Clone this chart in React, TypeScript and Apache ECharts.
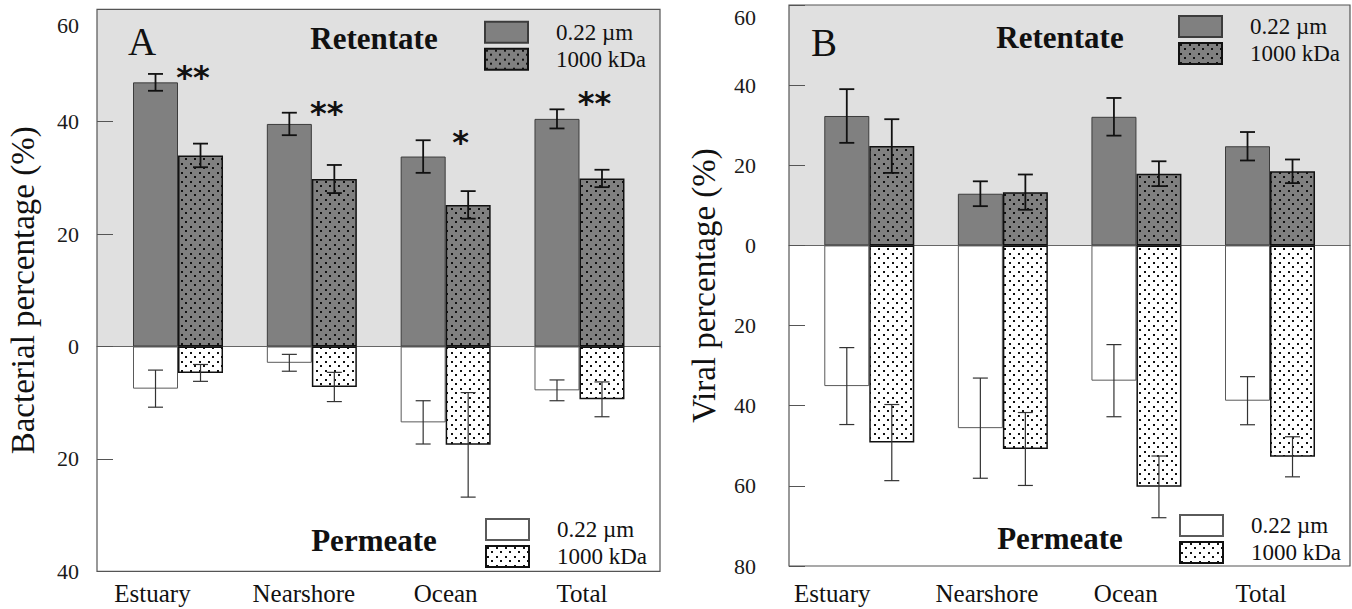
import React, { useEffect, useRef } from 'react';
import * as echarts from 'echarts';

// ---------- data ----------
const categories = ['Estuary', 'Nearshore', 'Ocean', 'Total'];
const filterLabels = ['0.22 µm', '1000 kDa'];

// Panel A – bacterial percentage (%)
const bacRet022 = [47.0, 39.6, 33.8, 40.5];
const bacRet022Err = [1.5, 2.0, 2.9, 1.7];
const bacRet1000 = [34.0, 29.8, 25.2, 29.9];
const bacRet1000Err = [2.1, 2.5, 2.45, 1.55];
const bacPerm022 = [7.5, 2.9, 13.5, 7.8];
const bacPerm022Err = [3.3, 1.5, 3.85, 1.85];
const bacPerm1000 = [4.7, 7.2, 17.5, 9.4];
const bacPerm1000Err = [1.5, 2.6, 9.3, 3.1];
const bacStars = ['**', '**', '*', '**'];
const bacStarLevel = [48.9, 42.5, 37.2, 44.3];

// Panel B – viral percentage (%)
const virRet022 = [32.3, 12.9, 32.1, 24.75];
const virRet022Err = [6.7, 3.1, 4.7, 3.55];
const virRet1000 = [24.8, 13.3, 17.9, 18.5];
const virRet1000Err = [6.7, 4.4, 3.1, 2.95];
const virPerm022 = [35.1, 45.6, 33.75, 38.75];
const virPerm022Err = [9.6, 12.5, 9.0, 6.0];
const virPerm1000 = [49.2, 50.8, 60.25, 52.75];
const virPerm1000Err = [9.5, 9.1, 7.7, 5.0];

const bacAxis = { min: -40, max: 60, interval: 20, name: 'Bacterial percentage (%)' };
const virAxis = { min: -80, max: 60, interval: 20, name: 'Viral percentage (%)' };

// ---------- layout / style ----------
const SERIF = '"Liberation Serif", "Times New Roman", serif';
const BAR_W = 45;
const HALF = BAR_W / 2;
const CAP = 7.5;

const PANELS = [
  {
    key: 'A',
    letter: 'A',
    axis: bacAxis,
    ret022: bacRet022, ret022Err: bacRet022Err, ret1000: bacRet1000, ret1000Err: bacRet1000Err,
    perm022: bacPerm022, perm022Err: bacPerm022Err, perm1000: bacPerm1000, perm1000Err: bacPerm1000Err,
    stars: bacStars, starLevel: bacStarLevel,
    outer: { left: 97, top: 9.3, width: 563, height: 562 },
    inner: { left: 111.1, width: 535.3 },
    labelMargin: 18, nameGap: 58, topLabelPad: 32, xLabelMargin: 10,
    xShift: [-25.5, -8, 0, 2.5],
    letterPos: [142, 41], retPos: [374, 38], permPos: [374, 540],
    legTop: [484, 20.7], legBot: [485, 518],
  },
  {
    key: 'B',
    letter: 'B',
    axis: virAxis,
    ret022: virRet022, ret022Err: virRet022Err, ret1000: virRet1000, ret1000Err: virRet1000Err,
    perm022: virPerm022, perm022Err: virPerm022Err, perm1000: virPerm1000, perm1000Err: virPerm1000Err,
    stars: null, starLevel: null,
    outer: { left: 789, top: 5, width: 561, height: 561 },
    inner: { left: 802.5, width: 534.3 },
    labelMargin: 33, nameGap: 69, topLabelPad: 24, xLabelMargin: 15,
    xShift: [-37, -16, -10.7, -9],
    letterPos: [824, 42], retPos: [1060, 37], permPos: [1060, 538],
    legTop: [1178, 15], legBot: [1179, 514],
  },
];

function makeDots(bg: string) {
  const c = document.createElement('canvas');
  c.width = 9;
  c.height = 9;
  const g = c.getContext('2d')!;
  g.fillStyle = bg;
  g.fillRect(0, 0, 9, 9);
  g.fillStyle = '#111';
  g.fillRect(1, 1, 2, 2);
  g.fillRect(5, 5, 2, 2);
  return { image: c, repeat: 'repeat', imageWidth: 9, imageHeight: 9 } as any;
}

function buildOption() {
  const dotsGray = makeDots('#808080');
  const dotsWhite = makeDots('#ffffff');

  const grid: any[] = [];
  const xAxis: any[] = [];
  const yAxis: any[] = [];
  const series: any[] = [];
  const legend: any[] = [];
  const graphic: any[] = [];

  PANELS.forEach((p, pi) => {
    const gOuter = pi * 2;
    const gInner = pi * 2 + 1;
    grid.push({ left: p.outer.left, top: p.outer.top, width: p.outer.width, height: p.outer.height });
    grid.push({ left: p.inner.left, top: p.outer.top, width: p.inner.width, height: p.outer.height });

    // outer axes: frame, ticks, labels, zero line
    xAxis.push({
      type: 'value', gridIndex: gOuter, min: 0, max: 1, z: 1,
      axisLine: { show: true, onZero: true, lineStyle: { color: '#666', width: 1 } },
      axisTick: { show: false }, axisLabel: { show: false }, splitLine: { show: false },
    });
    yAxis.push({
      type: 'value', gridIndex: gOuter, min: p.axis.min, max: p.axis.max, interval: p.axis.interval, z: 1,
      name: p.axis.name, nameLocation: 'middle', nameRotate: 90, nameGap: p.nameGap,
      nameTextStyle: { fontFamily: SERIF, fontSize: 33, color: '#111' },
      axisLine: { show: false },
      axisTick: { show: true, inside: true, length: 16, lineStyle: { color: '#555', width: 1 } },
      splitLine: { show: false },
      axisLabel: {
        margin: p.labelMargin, fontFamily: SERIF, fontSize: 22, color: '#1a1a1a',
        formatter: (v: number) => (v === p.axis.max ? `{t|${Math.abs(v)}}` : `{n|${Math.abs(v)}}`),
        rich: {
          t: { padding: [p.topLabelPad, 0, 0, 0], fontFamily: SERIF, fontSize: 22, color: '#1a1a1a' },
          n: { fontFamily: SERIF, fontSize: 22, color: '#1a1a1a' },
        },
      },
    });

    // inner axes: bars
    const rich: any = {};
    p.xShift.forEach((s, i) => {
      rich['c' + i] = {
        fontFamily: SERIF, fontSize: 25, color: '#111',
        padding: s < 0 ? [0, -2 * s, 0, 0] : [0, 0, 0, 2 * s],
      };
    });
    xAxis.push({
      type: 'category', gridIndex: gInner, data: categories, position: 'bottom',
      axisLine: { show: false, onZero: false }, axisTick: { show: false }, splitLine: { show: false },
      axisLabel: {
        margin: p.xLabelMargin, interval: 0, fontFamily: SERIF, fontSize: 25, color: '#111',
        formatter: (v: string, i: number) => `{c${i}|${v}}`, rich,
      },
    });
    yAxis.push({
      type: 'value', gridIndex: gInner, min: p.axis.min, max: p.axis.max, interval: p.axis.interval, show: false,
      splitLine: { show: false },
    });

    // gray retentate background
    series.push({
      type: 'custom', xAxisIndex: gOuter, yAxisIndex: gOuter, z: 0, silent: true,
      data: [[0, p.axis.max]],
      renderItem: (_params: any, api: any) => {
        const a = api.coord([0, 0]);
        const b = api.coord([1, api.value(1)]);
        return {
          type: 'rect',
          shape: { x: a[0], y: b[1], width: b[0] - a[0], height: a[1] - b[1] },
          style: { fill: '#e0e0e0' },
        };
      },
    });
    // frame
    series.push({
      type: 'custom', xAxisIndex: gOuter, yAxisIndex: gOuter, z: 6, silent: true,
      data: [[p.axis.min, p.axis.max]],
      renderItem: (_params: any, api: any) => {
        const a = api.coord([0, api.value(0)]);
        const b = api.coord([1, api.value(1)]);
        return {
          type: 'rect',
          shape: { x: a[0], y: b[1], width: b[0] - a[0], height: a[1] - b[1] },
          style: { fill: 'none', stroke: '#555', lineWidth: 1.2 },
        };
      },
    });

    const nm = (kind: string, f: number) => `${p.key}|${kind}|${filterLabels[f]}`;
    const common = { type: 'bar', xAxisIndex: gInner, yAxisIndex: gInner, barWidth: BAR_W, barGap: '0%', z: 2, silent: true };
    series.push({
      ...common, name: nm('R', 0), stack: p.key + '022', data: p.ret022,
      itemStyle: { color: '#808080', borderColor: '#3c3c3c', borderWidth: 1 },
    });
    series.push({
      ...common, name: nm('P', 0), stack: p.key + '022', data: p.perm022.map((v) => -v),
      itemStyle: { color: '#ffffff', borderColor: '#5a5a5a', borderWidth: 1 },
    });
    series.push({
      ...common, name: nm('R', 1), stack: p.key + '1000', data: p.ret1000,
      itemStyle: { color: dotsGray, borderColor: '#111', borderWidth: 1.5 },
    });
    series.push({
      ...common, name: nm('P', 1), stack: p.key + '1000', data: p.perm1000.map((v) => -v),
      itemStyle: { color: dotsWhite, borderColor: '#111', borderWidth: 1.5 },
    });

    // error bars
    const errData: number[][] = [];
    categories.forEach((_c, i) => {
      errData.push([i, p.ret022[i], p.ret022Err[i], 0, 0]);
      errData.push([i, p.ret1000[i], p.ret1000Err[i], 1, 0]);
      errData.push([i, -p.perm022[i], p.perm022Err[i], 0, 1]);
      errData.push([i, -p.perm1000[i], p.perm1000Err[i], 1, 1]);
    });
    series.push({
      type: 'custom', xAxisIndex: gInner, yAxisIndex: gInner, z: 4, silent: true,
      data: errData,
      renderItem: (_params: any, api: any) => {
        const ci = api.value(0);
        const v = api.value(1);
        const e = api.value(2);
        const slot = api.value(3);
        const kind = api.value(4);
        const c = api.coord([ci, v]);
        const x = c[0] + (slot === 0 ? -HALF : HALF);
        const yT = api.coord([ci, v + e])[1];
        const yB = api.coord([ci, v - e])[1];
        const style = kind === 0 ? { stroke: '#111', lineWidth: 1.8 } : { stroke: '#333', lineWidth: 1.2 };
        return {
          type: 'group',
          children: [
            { type: 'line', shape: { x1: x, y1: yT, x2: x, y2: yB }, style },
            { type: 'line', shape: { x1: x - CAP, y1: yT, x2: x + CAP, y2: yT }, style },
            { type: 'line', shape: { x1: x - CAP, y1: yB, x2: x + CAP, y2: yB }, style },
          ],
        };
      },
    });

    // significance stars
    if (p.stars && p.starLevel) {
      const stars = p.stars;
      series.push({
        type: 'custom', xAxisIndex: gInner, yAxisIndex: gInner, z: 5, silent: true,
        data: p.starLevel.map((v, i) => [i, v]),
        renderItem: (params: any, api: any) => {
          const c = api.coord([api.value(0), api.value(1)]);
          return {
            type: 'text', x: c[0] + 15, y: c[1] + 5,
            style: {
              text: stars[params.dataIndex], fontFamily: '"DejaVu Sans", sans-serif', fontWeight: 'bold',
              fontSize: 32, fill: '#111', align: 'center', verticalAlign: 'middle',
            },
          };
        },
      });
    }

    const legCommon = {
      orient: 'vertical', icon: 'rect', itemWidth: 43, itemHeight: 21, itemGap: 4, padding: 0,
      selectedMode: false,
      formatter: (n: string) => n.split('|')[2],
      textStyle: { fontFamily: SERIF, fontSize: 23, color: '#111', lineHeight: 21, padding: [0, 0, 0, 23] },
    };
    legend.push({ ...legCommon, left: p.legTop[0], top: p.legTop[1], data: [nm('R', 0), nm('R', 1)] });
    legend.push({ ...legCommon, left: p.legBot[0], top: p.legBot[1], data: [nm('P', 0), nm('P', 1)] });

    graphic.push({
      type: 'text', x: p.letterPos[0], y: p.letterPos[1], z: 10,
      style: { text: p.letter, fontFamily: SERIF, fontSize: 39, fill: '#111', align: 'center', verticalAlign: 'middle' },
    });
    graphic.push({
      type: 'text', x: p.retPos[0], y: p.retPos[1], z: 10,
      style: { text: 'Retentate', fontFamily: SERIF, fontWeight: 'bold', fontSize: 31, fill: '#111', align: 'center', verticalAlign: 'middle' },
    });
    graphic.push({
      type: 'text', x: p.permPos[0], y: p.permPos[1], z: 10,
      style: { text: 'Permeate', fontFamily: SERIF, fontWeight: 'bold', fontSize: 31, fill: '#111', align: 'center', verticalAlign: 'middle' },
    });
  });

  return {
    animation: false,
    backgroundColor: '#ffffff',
    textStyle: { fontFamily: SERIF },
    grid, xAxis, yAxis, series, legend, graphic,
  };
}

export default function App() {
  const ref = useRef<HTMLDivElement | null>(null);
  useEffect(() => {
    if (!ref.current) return;
    const chart = echarts.init(ref.current, undefined, { renderer: 'svg' });
    chart.setOption(buildOption() as any);
    return () => chart.dispose();
  }, []);
  return <div ref={ref} style={{ position: 'fixed', left: 0, top: 0, width: 1352, height: 609 }} />;
}
